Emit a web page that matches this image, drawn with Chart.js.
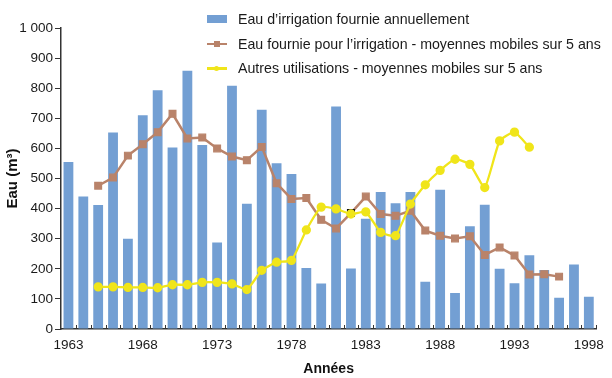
<!DOCTYPE html>
<html><head><meta charset="utf-8">
<script src="https://cdn.jsdelivr.net/npm/chart.js@4/dist/chart.umd.min.js"></script>
<style>
html,body{margin:0;padding:0;background:#fff;}
#wrap{position:relative;width:612px;height:378px;}
#legend{position:absolute;left:207px;top:7px;font:14.2px "Liberation Sans",Arial,sans-serif;color:#1a1a1a;}
.row{height:24.5px;display:flex;align-items:center;white-space:nowrap;}
.sw{width:20px;height:12px;position:relative;margin-right:11px;flex:none;}
.bar{position:absolute;left:0;top:2px;width:20px;height:8px;background:#739fd3;}
.ln{position:absolute;left:0;top:5px;width:20px;height:2.5px;}
.mk{position:absolute;left:7px;top:3px;width:6px;height:6px;}
</style>
</head><body>
<div id="wrap">
<canvas id="c" width="612" height="378"></canvas>
<div id="legend">
  <div class="row"><span class="sw"><span class="bar"></span></span>Eau d’irrigation fournie annuellement</div>
  <div class="row"><span class="sw"><span class="ln" style="background:#b9836a"></span><span class="mk" style="background:#b9836a"></span></span>Eau fournie pour l’irrigation - moyennes mobiles sur 5 ans</div>
  <div class="row"><span class="sw"><span class="ln" style="background:#f0e51a"></span><span class="mk" style="background:#f0e51a;border-radius:50%;width:5px;height:5px;top:3.5px"></span></span>Autres utilisations - moyennes mobiles sur 5 ans</div>
</div>
</div>
<script>
const years = ["1963","1964","1965","1966","1967","1968","1969","1970","1971","1972","1973","1974","1975","1976","1977","1978","1979","1980","1981","1982","1983","1984","1985","1986","1987","1988","1989","1990","1991","1992","1993","1994","1995","1996","1997","1998"];
const irrigationAnnual = [555,440,412,653,300,710,793,603,858,611,287,808,416,728,551,515,203,151,739,201,366,455,418,455,157,463,120,341,413,200,152,245,196,104,214,107];
const irrigationMA5 = [null,null,476,503,576,614,654,715,633,636,600,573,561,605,484,432,435,363,334,385,440,382,376,393,327,310,301,308,246,271,244,181,182,174,null,null];
const otherUsesMA5 = [null,null,140,140,138,138,137,147,147,155,155,150,131,195,222,228,329,405,399,382,389,321,310,415,479,527,564,547,470,625,654,604,null,null,null,null];
const yTicks = [0,100,200,300,400,500,600,700,800,900,1000];
const xLabelYears = ["1963","1968","1973","1978","1983","1988","1993","1998"];

const FONT = '"Liberation Sans", Arial, sans-serif';
const axisColor = '#333';

const innerTicks = {
  id: 'innerTicks',
  afterDraw(chart) {
    const xs = chart.scales.x, ctx = chart.ctx;
    const n = years.length;
    const w = xs.getPixelForValue(1) - xs.getPixelForValue(0);
    const b = chart.chartArea.bottom;
    ctx.save();
    ctx.strokeStyle = axisColor; ctx.lineWidth = 1;
    for (let i = 1; i <= n; i++) {
      const x = Math.round(xs.getPixelForValue(i - 1) + w / 2) + 0.5;
      ctx.beginPath(); ctx.moveTo(x, b); ctx.lineTo(x, b - 4); ctx.stroke();
    }
    ctx.restore();
  }
};

const brownBorders = years.map(y => y === "1982" ? '#111' : '#b9836a');

new Chart(document.getElementById('c'), {
  data: {
    labels: years,
    datasets: [
      { type: 'line', label: 'Autres utilisations - moyennes mobiles sur 5 ans', data: otherUsesMA5, order: 0,
        borderColor: '#f0e51a', backgroundColor: '#f0e51a', borderWidth: 2.3, pointRadius: 3.5, pointStyle: 'circle',
        pointBackgroundColor: '#f0e51a', pointBorderColor: '#f0e51a', tension: 0.15, spanGaps: false },
      { type: 'line', label: 'Eau fournie pour l’irrigation - moyennes mobiles sur 5 ans', data: irrigationMA5, order: 1,
        borderColor: '#b9836a', backgroundColor: '#b9836a', borderWidth: 2.5, pointRadius: 4.8, pointStyle: 'rect',
        pointBackgroundColor: '#b9836a', pointBorderColor: brownBorders, pointBorderWidth: 1.2, tension: 0 },
      { type: 'bar', label: 'Eau d’irrigation fournie annuellement', data: irrigationAnnual, order: 2,
        backgroundColor: '#739fd3', borderWidth: 0, categoryPercentage: 1, barPercentage: 0.66 }
    ]
  },
  options: {
    responsive: false, animation: false, devicePixelRatio: 1,
    layout: { padding: { top: 28, right: 11, left: 4, bottom: 0 } },
    plugins: { legend: { display: false }, tooltip: { enabled: false } },
    scales: {
      x: {
        type: 'category', offset: true,
        grid: { display: true, drawOnChartArea: false, drawTicks: false, offset: true },
        border: { display: true, color: axisColor, width: 1.5 },
        ticks: { autoSkip: false, maxRotation: 0, padding: 8, color: '#1a1a1a', font: { family: FONT, size: 13.5 },
          callback: function(v, i) { const l = this.getLabelForValue(v); return xLabelYears.includes(l) ? l : ''; } },
        title: { display: true, text: 'Années', color: '#111', font: { family: FONT, size: 14, weight: 'bold' }, padding: { top: 8, bottom: 0 } },
        afterFit: s => { s.height = 49; }
      },
      y: {
        min: 0, max: 1000,
        grid: { display: true, drawOnChartArea: false, drawTicks: true, tickLength: 6, color: axisColor },
        border: { display: true, color: axisColor, width: 1.5 },
        afterBuildTicks: s => { s.ticks = yTicks.map(v => ({ value: v })); },
        ticks: { padding: 2, color: '#1a1a1a', font: { family: FONT, size: 13.5 },
          callback: v => v >= 1000 ? String(v).replace(/(\d)(\d{3})$/, '$1 $2') : String(v) },
        title: { display: true, text: 'Eau (m³)', color: '#111', font: { family: FONT, size: 15, weight: 'bold' }, padding: { top: 0, bottom: 0 } },
        afterFit: s => { s.width = 57; }
      }
    }
  },
  plugins: [innerTicks]
});
</script>
</body></html>
